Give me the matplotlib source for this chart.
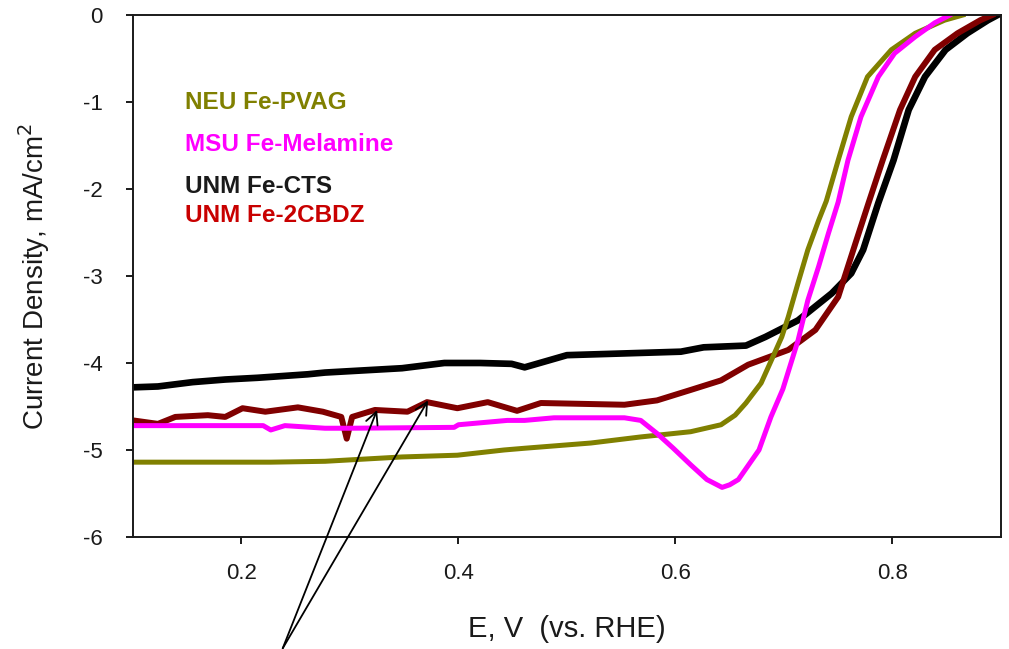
import matplotlib
matplotlib.use('Agg')
import matplotlib.pyplot as plt

plt.rcParams['font.family'] = ['Liberation Sans', 'DejaVu Sans']
plt.rcParams['axes.unicode_minus'] = False

# ── LSV DATA (E vs RHE, current density mA/cm2) ──
cts_E = [0.100, 0.123, 0.155, 0.185, 0.215, 0.261, 0.277, 0.348, 0.387, 0.420,
         0.449, 0.461, 0.500, 0.553, 0.605, 0.626, 0.665, 0.683, 0.713, 0.744,
         0.762, 0.773, 0.787, 0.801, 0.815, 0.830, 0.849, 0.869, 0.888, 0.897]
cts_j = [-4.28, -4.27, -4.22, -4.19, -4.17, -4.13, -4.11, -4.06, -4.00, -4.00,
         -4.01, -4.05, -3.91, -3.89, -3.87, -3.82, -3.80, -3.70, -3.51, -3.20,
         -2.97, -2.70, -2.16, -1.67, -1.09, -0.71, -0.40, -0.21, -0.06, 0.00]

cbdz_E = [0.100, 0.123, 0.139, 0.169, 0.185, 0.201, 0.222, 0.252, 0.275, 0.292,
          0.297, 0.302, 0.323, 0.353, 0.371, 0.399, 0.427, 0.454, 0.476, 0.553,
          0.583, 0.614, 0.642, 0.667, 0.704, 0.729, 0.750, 0.766, 0.778, 0.791,
          0.807, 0.821, 0.839, 0.860, 0.881, 0.892]
cbdz_j = [-4.66, -4.70, -4.62, -4.60, -4.62, -4.52, -4.56, -4.51, -4.56, -4.62,
          -4.87, -4.62, -4.54, -4.56, -4.45, -4.52, -4.45, -4.55, -4.46, -4.48,
          -4.43, -4.31, -4.20, -4.02, -3.85, -3.62, -3.24, -2.62, -2.16, -1.67,
          -1.09, -0.71, -0.40, -0.21, -0.06, 0.00]

pvag_E = [0.100, 0.227, 0.277, 0.348, 0.399, 0.442, 0.461, 0.522, 0.568, 0.614,
          0.642, 0.655, 0.665, 0.679, 0.688, 0.698, 0.704, 0.713, 0.722, 0.732,
          0.739, 0.750, 0.762, 0.777, 0.799, 0.821, 0.848, 0.865]
pvag_j = [-5.14, -5.14, -5.13, -5.08, -5.06, -5.00, -4.98, -4.92, -4.85, -4.79,
          -4.71, -4.60, -4.46, -4.23, -3.98, -3.70, -3.47, -3.08, -2.70, -2.36,
          -2.14, -1.67, -1.17, -0.71, -0.40, -0.21, -0.06, 0.00]

mel_E = [0.100, 0.220, 0.227, 0.240, 0.277, 0.300, 0.396, 0.400, 0.445, 0.461,
         0.488, 0.553, 0.568, 0.583, 0.598, 0.614, 0.629, 0.643, 0.650, 0.658,
         0.677, 0.688, 0.699, 0.713, 0.722, 0.732, 0.741, 0.750, 0.759, 0.771,
         0.787, 0.802, 0.821, 0.839, 0.853]
mel_j = [-4.72, -4.72, -4.77, -4.72, -4.75, -4.75, -4.74, -4.71, -4.66, -4.66,
         -4.63, -4.63, -4.66, -4.81, -4.98, -5.17, -5.34, -5.43, -5.40, -5.34,
         -5.00, -4.62, -4.30, -3.74, -3.28, -2.89, -2.51, -2.15, -1.67, -1.17,
         -0.71, -0.44, -0.25, -0.09, 0.00]

labels = ['NEU Fe-PVAG', 'MSU Fe-Melamine', 'UNM Fe-CTS', 'UNM Fe-2CBDZ']
label_colors = ['#808000', '#FF00FF', '#1a1a1a', '#C80000']
label_y = [-1.01, -1.49, -1.97, -2.31]

xticks = [0.2, 0.4, 0.6, 0.8]
yticks = [0, -1, -2, -3, -4, -5, -6]

# arrow tips on the 2CBDZ curve, tails below the axis
arrow_tips = [(0.325, -4.54), (0.372, -4.43)]
arrow_tail = (0.238, -7.28)

# ── PLOT ──
fig = plt.figure(figsize=(10.09, 6.49), dpi=100)
ax = fig.add_axes([0.1318, 0.1726, 0.8602, 0.8043])

ax.plot(cts_E, cts_j, color='black', lw=4.8)
ax.plot(cbdz_E, cbdz_j, color='#800000', lw=4.3)
ax.plot(pvag_E, pvag_j, color='#808000', lw=3.6)
ax.plot(mel_E, mel_j, color='#FF00FF', lw=3.6)

ax.set_xlim(0.1, 0.9)
ax.set_ylim(-6, 0)
ax.set_xticks(xticks)
ax.set_xticklabels([f'{t:.1f}' for t in xticks])
ax.set_yticks(yticks)
ax.set_yticklabels([str(t) for t in yticks])

ax.tick_params(axis='both', direction='out', length=5, width=1.4,
               labelsize=16, colors='#1a1a1a')
ax.tick_params(axis='y', pad=17)
ax.tick_params(axis='x', pad=14)
for side in ['left', 'bottom', 'top', 'right']:
    ax.spines[side].set_linewidth(1.4)
    ax.spines[side].set_color('#1a1a1a')

ax.set_xlabel('E, V  (vs. RHE)', fontsize=21, color='#1a1a1a', labelpad=22)
ax.set_ylabel('Current Density, mA/cm$^2$', fontsize=20, color='#1a1a1a',
              labelpad=22)

for text, c, y in zip(labels, label_colors, label_y):
    ax.text(0.148, y, text, color=c, fontsize=17.5, fontweight='bold',
            va='center', ha='left')

for tip in arrow_tips:
    ax.annotate('', xy=tip, xytext=arrow_tail, annotation_clip=False,
                arrowprops=dict(arrowstyle='->', lw=1.3, color='black',
                                mutation_scale=22, shrinkA=0, shrinkB=0))

fig.savefig('out.png', dpi=100)
